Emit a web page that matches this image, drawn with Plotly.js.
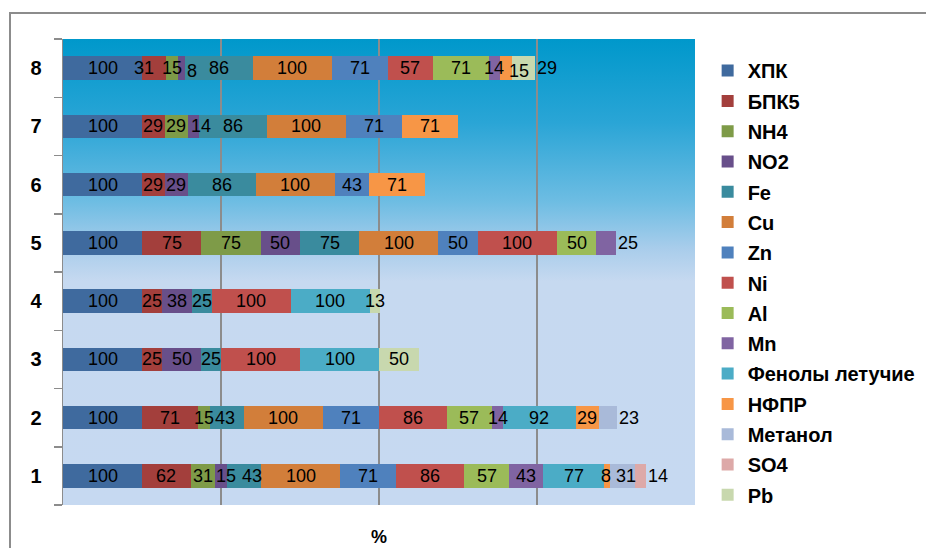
<!DOCTYPE html>
<html>
<head>
<meta charset="utf-8">
<script src="https://cdn.plot.ly/plotly-3.0.1.min.js"></script>
<style>
  html, body { margin: 0; padding: 0; background: #ffffff; overflow: hidden; }
  #frame { position: absolute; left: 9px; top: 12px; width: 2000px; height: 2000px;
           border-left: 2px solid #8c8c8c; border-top: 2px solid #8c8c8c; z-index: 0; }
  #bg { position: absolute; left: 63px; top: 39px; width: 632px; height: 466px; z-index: 1;
        background: linear-gradient(to bottom, #0098cb 0%, #2aa5d6 18%, #6ebde3 35%, #a9cdeb 45%, #c6d9f0 52%, #c6d9f1 100%); }
  #chart { position: absolute; left: 0; top: 0; width: 926px; height: 548px; z-index: 2; }
</style>
</head>
<body>
<div id="frame"></div>
<div id="bg"></div>
<div id="chart"></div>
<script>
// ---- data ----
const categories = ['1', '2', '3', '4', '5', '6', '7', '8'];
const seriesNames = ['ХПК', 'БПК5', 'NH4', 'NO2', 'Fe', 'Cu', 'Zn', 'Ni', 'Al', 'Mn',
                     'Фенолы летучие', 'НФПР', 'Метанол', 'SO4', 'Pb'];
const vХПК     = [100, 100, 100, 100, 100, 100, 100, 100];
const vБПК5    = [62, 71, 25, 25, 75, 29, 29, 31];
const vNH4     = [31, 15, 0, 0, 75, 0, 29, 15];
const vNO2     = [15, 0, 50, 38, 50, 29, 14, 8];
const vFe      = [43, 43, 25, 25, 75, 86, 86, 86];
const vCu      = [100, 100, 0, 0, 100, 100, 100, 100];
const vZn      = [71, 71, 0, 0, 50, 43, 71, 71];
const vNi      = [86, 86, 100, 100, 100, 0, 0, 57];
const vAl      = [57, 57, 0, 0, 50, 0, 0, 71];
const vMn      = [43, 14, 0, 0, 25, 0, 0, 14];
const vФенолы  = [77, 92, 100, 100, 0, 0, 0, 0];
const vНФПР    = [8, 29, 0, 0, 0, 71, 71, 15];
const vМетанол = [31, 23, 0, 0, 0, 0, 0, 0];
const vSO4     = [14, 0, 0, 0, 0, 0, 0, 0];
const vPb      = [0, 0, 50, 13, 0, 0, 0, 29];
const seriesValues = [vХПК, vБПК5, vNH4, vNO2, vFe, vCu, vZn, vNi, vAl, vMn,
                      vФенолы, vНФПР, vМетанол, vSO4, vPb];

// ---- style ----
const colors = ['#3f6a9e', '#a33f3c', '#7e9b48', '#684f8a', '#3a8b9e', '#d27e3a', '#4f81bd',
                '#c0504d', '#9bbb59', '#8064a2', '#4bacc6', '#f79646', '#a9bad9', '#dda9a8', '#c8d8ae'];
// categories whose last label sits just outside the bar end
const outsideLast = ['1', '2', '5', '8'];
// pixel nudges of crowded labels ("category|series" -> [dx, dy])
const nudges = {
  '8|БПК5': [-10, 0], '8|NO2': [10, 3], '8|НФПР': [13, 3],
  '7|NO2': [8, 0],
  '1|NO2': [5, 0], '1|Fe': [8, 0], '1|НФПР': [-1, 0], '1|Метанол': [3, 0],
  '2|Fe': [-2, 0]
};
const labelFont = { family: 'Liberation Sans, Arial, sans-serif', size: 18, color: '#000000' };

const traces = seriesNames.map((name, s) => ({
  type: 'bar', orientation: 'h', name: name, legendgroup: name,
  y: categories, x: seriesValues[s],
  marker: { color: colors[s], line: { width: 0 } },
  hoverinfo: 'name+x'
}));

// data labels, positioned from cumulative sums of the data (y given as category index)
const annotations = [];
categories.forEach((c, i) => {
  let cum = 0;
  let lastIdx = -1;
  seriesValues.forEach((vals, s) => { if (vals[i] > 0) lastIdx = s; });
  seriesValues.forEach((vals, s) => {
    const v = vals[i];
    if (v > 0) {
      const nd = nudges[c + '|' + seriesNames[s]] || [0, 0];
      const outside = (s === lastIdx && outsideLast.includes(c));
      annotations.push({
        xref: 'x', yref: 'y', x: outside ? cum + v : cum + v / 2, y: i,
        text: String(v), showarrow: false,
        xanchor: outside ? 'left' : 'center', yanchor: 'middle',
        xshift: nd[0] + (outside ? 1 : 0), yshift: -nd[1],
        font: labelFont, borderpad: 0
      });
      cum += v;
    }
  });
});

const layout = {
  width: 926, height: 548,
  margin: { l: 63, r: 231, t: 39, b: 43, pad: 0, autoexpand: false },
  paper_bgcolor: 'rgba(0,0,0,0)', plot_bgcolor: 'rgba(0,0,0,0)',
  barmode: 'stack', bargap: 0.6,
  font: { family: 'Liberation Sans, Arial, sans-serif', color: '#000000' },
  xaxis: {
    range: [0, 800], dtick: 200, tick0: 0, showticklabels: false, ticks: '',
    showgrid: true, gridcolor: '#8c8c8c', gridwidth: 1.5, zeroline: false, showline: false,
    title: { text: '%', font: { size: 18, weight: 'bold' }, standoff: 25 }, automargin: false
  },
  yaxis: {
    type: 'category', range: [-0.5, 7.5], autorange: false,
    showline: true, linecolor: '#8c8c8c', linewidth: 1.5,
    ticks: 'outside', tickson: 'boundaries', ticklen: 8, tickcolor: '#8c8c8c', tickwidth: 1.5,
    ticklabelstandoff: 16, showgrid: false, zeroline: false,
    tickfont: { size: 20, weight: 'bold' }, automargin: false
  },
  legend: {
    x: 1.02, xanchor: 'left', y: 0.974, yanchor: 'top',
    traceorder: 'grouped', tracegroupgap: 1.3,
    font: { size: 20, weight: 'bold' }, bgcolor: 'rgba(0,0,0,0)'
  },
  annotations: annotations,
  showlegend: true
};

Plotly.newPlot('chart', traces, layout, { displayModeBar: false, staticPlot: true });
</script>
</body>
</html>
